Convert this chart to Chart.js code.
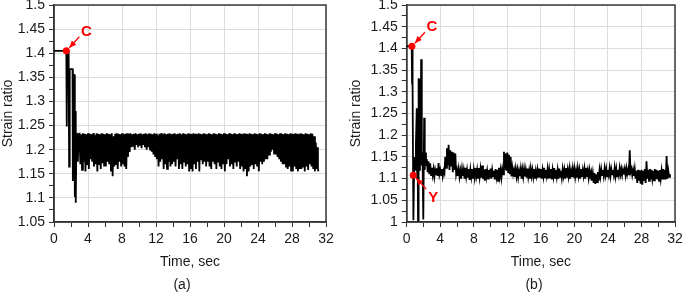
<!DOCTYPE html>
<html>
<head>
<meta charset="utf-8">
<script src="https://cdn.jsdelivr.net/npm/chart.js@4.4.1/dist/chart.umd.min.js"></script>
<style>
  body { margin: 0; background: #fff; }
  #wrap { position: relative; width: 685px; height: 299px; font-family: "Liberation Sans", Arial, sans-serif; }
  canvas { position: absolute; top: 0; }
  #ca { left: 0; }
  #cb { left: 340px; }
  .cap { position: absolute; top: 276px; font-size: 14px; line-height: 16px; color: #1a1a1a; transform: translateX(-50%); }
</style>
</head>
<body>
<div id="wrap">
  <canvas id="ca" width="340" height="299"></canvas>
  <canvas id="cb" width="345" height="299"></canvas>
  <div class="cap" style="left:182px">(a)</div>
  <div class="cap" style="left:534px">(b)</div>
</div>
<script>
const xTicks = [0, 4, 8, 12, 16, 20, 24, 28, 32];
const yTicksA = [1.05, 1.1, 1.15, 1.2, 1.25, 1.3, 1.35, 1.4, 1.45, 1.5];
const yTicksB = [1, 1.05, 1.1, 1.15, 1.2, 1.25, 1.3, 1.35, 1.4, 1.45, 1.5];

// (a) strain ratio vs time
const timeA = [0, 1.45, 1.5, 1.55, 1.72, 1.78, 1.85, 2.18, 2.22, 2.3, 2.4, 2.45, 2.5, 2.56, 2.62, 2.7, 2.8, 2.9,
  3, 3.1, 3.2, 3.3, 3.4, 3.5, 3.6, 3.7, 3.8, 3.9,
  4, 4.1, 4.2, 4.3, 4.4, 4.5, 4.6, 4.7, 4.8, 4.9,
  5, 5.1, 5.2, 5.3, 5.4, 5.5, 5.6, 5.7, 5.8, 5.9,
  6, 6.1, 6.2, 6.3, 6.4, 6.5, 6.6, 6.7, 6.8, 6.9,
  7, 7.1, 7.2, 7.3, 7.4, 7.5, 7.6, 7.7, 7.8, 7.9,
  8, 8.1, 8.2, 8.3, 8.4, 8.5, 8.6, 8.7, 8.8, 8.9,
  9, 9.1, 9.2, 9.3, 9.4, 9.5, 9.6, 9.7, 9.8, 9.9,
  10, 10.1, 10.2, 10.3, 10.4, 10.5, 10.6, 10.7, 10.8, 10.9,
  11, 11.1, 11.2, 11.3, 11.4, 11.5, 11.6, 11.7, 11.8, 11.9,
  12, 12.1, 12.2, 12.3, 12.4, 12.5, 12.6, 12.7, 12.8, 12.9,
  13, 13.1, 13.2, 13.3, 13.4, 13.5, 13.6, 13.7, 13.8, 13.9,
  14, 14.1, 14.2, 14.3, 14.4, 14.5, 14.6, 14.7, 14.8, 14.9,
  15, 15.1, 15.2, 15.3, 15.4, 15.5, 15.6, 15.7, 15.8, 15.9,
  16, 16.1, 16.2, 16.3, 16.4, 16.5, 16.6, 16.7, 16.8, 16.9,
  17, 17.1, 17.2, 17.3, 17.4, 17.5, 17.6, 17.7, 17.8, 17.9,
  18, 18.1, 18.2, 18.3, 18.4, 18.5, 18.6, 18.7, 18.8, 18.9,
  19, 19.1, 19.2, 19.3, 19.4, 19.5, 19.6, 19.7, 19.8, 19.9,
  20, 20.1, 20.2, 20.3, 20.4, 20.5, 20.6, 20.7, 20.8, 20.9,
  21, 21.1, 21.2, 21.3, 21.4, 21.5, 21.6, 21.7, 21.8, 21.9,
  22, 22.1, 22.2, 22.3, 22.4, 22.5, 22.6, 22.7, 22.8, 22.9,
  23, 23.1, 23.2, 23.3, 23.4, 23.5, 23.6, 23.7, 23.8, 23.9,
  24, 24.1, 24.2, 24.3, 24.4, 24.5, 24.6, 24.7, 24.8, 24.9,
  25, 25.1, 25.2, 25.3, 25.4, 25.5, 25.6, 25.7, 25.8, 25.9,
  26, 26.1, 26.2, 26.3, 26.4, 26.5, 26.6, 26.7, 26.8, 26.9,
  27, 27.1, 27.2, 27.3, 27.4, 27.5, 27.6, 27.7, 27.8, 27.9,
  28, 28.1, 28.2, 28.3, 28.4, 28.5, 28.6, 28.7, 28.8, 28.9,
  29, 29.1, 29.2, 29.3, 29.4, 29.5, 29.6, 29.7, 29.8, 29.9,
  30, 30.1, 30.2, 30.3, 30.4, 30.5, 30.6, 30.7, 30.8, 30.9,
  31, 31.05, 31.1];
const strainA = [1.405, 1.405, 1.248, 1.405, 1.405, 1.165, 1.367, 1.367, 1.135, 1.355, 1.355, 1.102, 1.28, 1.09, 1.2, 1.235, 1.175, 1.232,
  1.233, 1.17, 1.232, 1.158, 1.234, 1.175, 1.233, 1.155, 1.232, 1.168,
  1.234, 1.16, 1.233, 1.18, 1.232, 1.175, 1.234, 1.165, 1.23, 1.17,
  1.234, 1.155, 1.233, 1.17, 1.232, 1.16, 1.234, 1.172, 1.233, 1.165,
  1.232, 1.165, 1.234, 1.175, 1.233, 1.17, 1.232, 1.155, 1.234, 1.145,
  1.228, 1.165, 1.233, 1.17, 1.234, 1.16, 1.233, 1.175, 1.232, 1.165,
  1.234, 1.17, 1.232, 1.165, 1.233, 1.16, 1.234, 1.185, 1.233, 1.195,
  1.234, 1.205, 1.232, 1.208, 1.233, 1.2, 1.234, 1.21, 1.232, 1.205,
  1.233, 1.208, 1.234, 1.203, 1.232, 1.21, 1.233, 1.205, 1.234, 1.2,
  1.232, 1.205, 1.234, 1.2, 1.233, 1.196, 1.232, 1.19, 1.234, 1.185,
  1.233, 1.18, 1.23, 1.165, 1.233, 1.175, 1.234, 1.18, 1.232, 1.16,
  1.234, 1.17, 1.232, 1.16, 1.233, 1.175, 1.234, 1.165, 1.232, 1.17,
  1.233, 1.175, 1.234, 1.165, 1.232, 1.18, 1.233, 1.16, 1.234, 1.17,
  1.232, 1.16, 1.234, 1.175, 1.233, 1.165, 1.232, 1.17, 1.234, 1.155,
  1.233, 1.16, 1.232, 1.155, 1.234, 1.17, 1.233, 1.16, 1.232, 1.175,
  1.234, 1.155, 1.233, 1.18, 1.232, 1.17, 1.234, 1.175, 1.233, 1.165,
  1.232, 1.175, 1.234, 1.165, 1.233, 1.16, 1.232, 1.175, 1.234, 1.17,
  1.233, 1.16, 1.232, 1.175, 1.234, 1.165, 1.233, 1.16, 1.232, 1.17,
  1.234, 1.155, 1.233, 1.17, 1.232, 1.18, 1.234, 1.165, 1.233, 1.17,
  1.232, 1.16, 1.234, 1.175, 1.233, 1.165, 1.232, 1.175, 1.234, 1.16,
  1.233, 1.165, 1.232, 1.155, 1.234, 1.16, 1.233, 1.145, 1.232, 1.155,
  1.234, 1.165, 1.233, 1.17, 1.232, 1.16, 1.234, 1.17, 1.233, 1.165,
  1.232, 1.155, 1.234, 1.175, 1.233, 1.17, 1.232, 1.175, 1.234, 1.18,
  1.233, 1.18, 1.232, 1.19, 1.234, 1.195, 1.233, 1.2, 1.232, 1.19,
  1.234, 1.19, 1.233, 1.185, 1.232, 1.18, 1.234, 1.175, 1.233, 1.17,
  1.232, 1.17, 1.234, 1.165, 1.233, 1.16, 1.232, 1.165, 1.234, 1.155,
  1.233, 1.155, 1.232, 1.165, 1.234, 1.16, 1.233, 1.155, 1.232, 1.16,
  1.234, 1.16, 1.233, 1.165, 1.232, 1.155, 1.234, 1.165, 1.233, 1.158,
  1.232, 1.17, 1.234, 1.165, 1.233, 1.16, 1.228, 1.155, 1.215, 1.16,
  1.205, 1.16, 1.155];

// (b) strain ratio vs time
const timeB = [0, 0.6, 0.64, 0.68, 0.72, 0.8, 0.9, 1, 1.1, 1.2, 1.25, 1.3, 1.35, 1.42, 1.5, 1.58, 1.65, 1.72, 1.8, 1.88,
  1.98, 2.08, 2.15, 2.22, 2.3, 2.4, 2.5,
  2.6, 2.7, 2.8, 2.9,
  3, 3.1, 3.2, 3.3, 3.4, 3.5, 3.6, 3.7, 3.8, 3.9,
  4, 4.1, 4.2, 4.3, 4.4, 4.5, 4.6, 4.7, 4.8, 4.9,
  5, 5.1, 5.2, 5.3, 5.4, 5.5, 5.6, 5.7, 5.8, 5.9,
  6, 6.1, 6.2, 6.3, 6.4, 6.5, 6.6, 6.7, 6.8, 6.9,
  7, 7.1, 7.2, 7.3, 7.4, 7.5, 7.6, 7.7, 7.8, 7.9,
  8, 8.1, 8.2, 8.3, 8.4, 8.5, 8.6, 8.7, 8.8, 8.9,
  9, 9.1, 9.2, 9.3, 9.4, 9.5, 9.6, 9.7, 9.8, 9.9,
  10, 10.1, 10.2, 10.3, 10.4, 10.5, 10.6, 10.7, 10.8, 10.9,
  11, 11.1, 11.2, 11.3, 11.4, 11.5, 11.6, 11.7, 11.8, 11.9,
  12, 12.1, 12.2, 12.3, 12.4, 12.5, 12.6, 12.7, 12.8, 12.9,
  13, 13.1, 13.2, 13.3, 13.4, 13.5, 13.6, 13.7, 13.8, 13.9,
  14, 14.1, 14.2, 14.3, 14.4, 14.5, 14.6, 14.7, 14.8, 14.9,
  15, 15.1, 15.2, 15.3, 15.4, 15.5, 15.6, 15.7, 15.8, 15.9,
  16, 16.1, 16.2, 16.3, 16.4, 16.5, 16.6, 16.7, 16.8, 16.9,
  17, 17.1, 17.2, 17.3, 17.4, 17.5, 17.6, 17.7, 17.8, 17.9,
  18, 18.1, 18.2, 18.3, 18.4, 18.5, 18.6, 18.7, 18.8, 18.9,
  19, 19.1, 19.2, 19.3, 19.4, 19.5, 19.6, 19.7, 19.8, 19.9,
  20, 20.1, 20.2, 20.3, 20.4, 20.5, 20.6, 20.7, 20.8, 20.9,
  21, 21.1, 21.2, 21.3, 21.4, 21.5, 21.6, 21.7, 21.8, 21.9,
  22, 22.1, 22.2, 22.3, 22.4, 22.5, 22.6, 22.7, 22.8, 22.9,
  23, 23.1, 23.2, 23.3, 23.4, 23.5, 23.6, 23.7, 23.8, 23.9,
  24, 24.1, 24.2, 24.3, 24.4, 24.5, 24.6, 24.7, 24.8, 24.9,
  25, 25.1, 25.2, 25.3, 25.4, 25.5, 25.6, 25.7, 25.8, 25.9,
  26, 26.1, 26.2, 26.3, 26.4, 26.5, 26.6, 26.7, 26.8, 26.9,
  27, 27.1, 27.2, 27.3, 27.4, 27.5, 27.6, 27.7, 27.8, 27.9,
  28, 28.1, 28.2, 28.3, 28.4, 28.5, 28.6, 28.7, 28.8, 28.9,
  29, 29.1, 29.2, 29.3, 29.4, 29.5, 29.6, 29.7, 29.8, 29.9,
  30, 30.1, 30.2, 30.3, 30.4, 30.5, 30.6, 30.7, 30.8, 30.9,
  31, 31.1, 31.2, 31.3, 31.4];
const strainB = [1.405, 1.405, 1.32, 1.405, 1.315, 1.004, 1.15, 1.12, 1.18, 1.262, 1.1, 1.21, 1.004, 1.331, 1.12, 1.33, 1.15, 1.375, 1.13, 1.16,
  1.006, 1.24, 1.12, 1.16, 1.13, 1.145, 1.115,
  1.14, 1.11, 1.135, 1.108,
  1.125, 1.108, 1.122, 1.104, 1.12, 1.11, 1.124, 1.106, 1.136, 1.11,
  1.12, 1.108, 1.122, 1.105, 1.118, 1.112, 1.15, 1.125, 1.17, 1.13,
  1.178, 1.12, 1.165, 1.13, 1.162, 1.115, 1.16, 1.12, 1.158, 1.11,
  1.12, 1.106, 1.122, 1.104, 1.118, 1.1, 1.122, 1.106, 1.12, 1.1,
  1.125, 1.105, 1.12, 1.102, 1.122, 1.097, 1.12, 1.104, 1.122, 1.1,
  1.12, 1.103, 1.124, 1.106, 1.12, 1.1, 1.124, 1.104, 1.122, 1.102,
  1.13, 1.1, 1.12, 1.095, 1.122, 1.104, 1.118, 1.1, 1.12, 1.102,
  1.123, 1.1, 1.12, 1.106, 1.118, 1.098, 1.122, 1.104, 1.12, 1.095,
  1.125, 1.105, 1.12, 1.102, 1.122, 1.11, 1.162, 1.12, 1.158, 1.118,
  1.16, 1.115, 1.155, 1.11, 1.15, 1.105, 1.125, 1.11, 1.12, 1.104,
  1.122, 1.105, 1.12, 1.103, 1.118, 1.106, 1.122, 1.1, 1.12, 1.104,
  1.122, 1.105, 1.12, 1.102, 1.123, 1.104, 1.118, 1.1, 1.122, 1.106,
  1.12, 1.104, 1.122, 1.1, 1.118, 1.106, 1.12, 1.102, 1.123, 1.104,
  1.122, 1.1, 1.12, 1.105, 1.125, 1.103, 1.12, 1.106, 1.122, 1.1,
  1.12, 1.103, 1.122, 1.098, 1.12, 1.105, 1.124, 1.102, 1.12, 1.104,
  1.12, 1.1, 1.123, 1.104, 1.118, 1.102, 1.122, 1.106, 1.12, 1.1,
  1.124, 1.102, 1.12, 1.105, 1.122, 1.1, 1.118, 1.104, 1.122, 1.102,
  1.122, 1.104, 1.118, 1.102, 1.123, 1.106, 1.12, 1.1, 1.122, 1.104,
  1.12, 1.106, 1.122, 1.1, 1.125, 1.104, 1.118, 1.102, 1.12, 1.106,
  1.115, 1.095, 1.112, 1.09, 1.113, 1.088, 1.11, 1.092, 1.115, 1.095,
  1.12, 1.105, 1.122, 1.108, 1.12, 1.106, 1.124, 1.108, 1.122, 1.105,
  1.12, 1.108, 1.124, 1.106, 1.122, 1.11, 1.12, 1.108, 1.125, 1.106,
  1.122, 1.105, 1.12, 1.108, 1.125, 1.11, 1.122, 1.108, 1.12, 1.11,
  1.122, 1.108, 1.124, 1.11, 1.12, 1.108, 1.165, 1.115, 1.122, 1.108,
  1.12, 1.106, 1.122, 1.1, 1.118, 1.09, 1.12, 1.095, 1.118, 1.088,
  1.12, 1.086, 1.118, 1.095, 1.122, 1.09, 1.14, 1.1, 1.12, 1.095,
  1.122, 1.098, 1.12, 1.1, 1.118, 1.096, 1.122, 1.1, 1.12, 1.098,
  1.118, 1.095, 1.12, 1.1, 1.118, 1.098, 1.122, 1.1, 1.12, 1.098,
  1.152, 1.1, 1.118, 1.104, 1.11];

// marked points (C, Y)
const markTimeA = [1.45];
const markStrainA = [1.405];
const markTextA = ['C'];
const markTimeB = [0.62, 0.775];
const markStrainB = [1.405, 1.108];
const markTextB = ['C', 'Y'];

const FONT = "'Liberation Sans', Arial, sans-serif";
Chart.defaults.font.family = FONT;
Chart.defaults.font.size = 14;
Chart.defaults.color = '#1a1a1a';

// majors with a minor tick halfway between each pair
function withMinor(major) {
  const out = [];
  major.forEach((v, i) => {
    out.push(v);
    if (i < major.length - 1) out.push(+((v + major[i + 1]) / 2).toFixed(4));
  });
  return out;
}

const framePlugin = {
  id: 'frame',
  beforeDatasetsDraw(chart) {
    const { ctx, chartArea: a } = chart;
    ctx.save();
    ctx.strokeStyle = '#3a3a3a';
    ctx.lineWidth = 1.5;
    ctx.strokeRect(a.left, a.top, a.right - a.left, a.bottom - a.top);
    ctx.restore();
  }
};

const arrowPlugin = {
  id: 'arrows',
  afterDatasetsDraw(chart, args, opts) {
    const { ctx } = chart;
    const xs = chart.scales.x, ys = chart.scales.y;
    opts.t.forEach((t, i) => {
      const px = xs.getPixelForValue(t);
      const py = ys.getPixelForValue(opts.v[i]);
      const dir = opts.text[i] === 'Y' ? 1 : -1;
      const tx = px + 13, ty = py + 14 * dir;
      const hx = px + 3, hy = py + 3 * dir;
      ctx.save();
      ctx.strokeStyle = '#ff0000';
      ctx.fillStyle = '#ff0000';
      ctx.lineWidth = 1.3;
      ctx.beginPath();
      ctx.moveTo(tx, ty);
      ctx.lineTo(hx, hy);
      ctx.stroke();
      const ang = Math.atan2(hy - ty, hx - tx);
      ctx.beginPath();
      ctx.moveTo(hx, hy);
      ctx.lineTo(hx - 7 * Math.cos(ang) + 3 * Math.sin(ang), hy - 7 * Math.sin(ang) - 3 * Math.cos(ang));
      ctx.lineTo(hx - 7 * Math.cos(ang) - 3 * Math.sin(ang), hy - 7 * Math.sin(ang) + 3 * Math.cos(ang));
      ctx.closePath();
      ctx.fill();
      ctx.font = 'bold 15px ' + FONT;
      ctx.textAlign = 'center';
      ctx.textBaseline = 'middle';
      ctx.fillText(opts.text[i], px + 20, py + (dir > 0 ? 23 : -19));
      ctx.restore();
    });
  }
};

function makeChart(id, time, strain, yTicks, mt, mv, mtext, yWidth, padRight, yTitlePad) {
  const xAll = withMinor(xTicks);
  const yAll = withMinor(yTicks);
  return new Chart(document.getElementById(id), {
    type: 'line',
    data: {
      datasets: [
        {
          data: mt.map((t, i) => ({ x: t, y: mv[i] })),
          showLine: false,
          pointRadius: 3.5,
          pointBackgroundColor: '#ff0000',
          pointBorderWidth: 0
        },
        {
          data: time.map((t, i) => ({ x: t, y: strain[i] })),
          borderColor: '#000',
          borderWidth: 1.8,
          pointRadius: 0,
          fill: false,
          tension: 0
        }
      ]
    },
    options: {
      responsive: false,
      animation: false,
      events: [],
      layout: { padding: { top: 5, right: padRight, bottom: 28.6, left: 0 } },
      plugins: {
        legend: { display: false },
        tooltip: { enabled: false },
        arrows: { t: mt, v: mv, text: mtext }
      },
      scales: {
        x: {
          type: 'linear',
          min: xTicks[0],
          max: xTicks[xTicks.length - 1],
          afterBuildTicks: s => { s.ticks = xAll.map(v => ({ value: v })); },
          afterFit: s => { s.height = 48.4; s.paddingLeft = 0; s.paddingRight = 0; },
          ticks: { autoSkip: false, maxRotation: 0, padding: 4, callback: (v, i) => (i % 2 ? '' : String(v)) },
          grid: {
            color: c => (c.index % 2 ? 'rgba(0,0,0,0)' : '#dcdcdc'),
            tickColor: '#333',
            tickLength: 5,
            lineWidth: 1
          },
          border: { color: '#222', width: 1.5 },
          title: { display: true, text: 'Time, sec', padding: { top: 0, bottom: 0 } }
        },
        y: {
          min: yTicks[0],
          max: yTicks[yTicks.length - 1],
          afterBuildTicks: s => { s.ticks = yAll.map(v => ({ value: v })); },
          afterFit: s => { s.width = yWidth; s.paddingTop = 0; s.paddingBottom = 0; },
          ticks: { autoSkip: false, padding: 4, callback: (v, i) => (i % 2 ? '' : String(v)) },
          grid: {
            color: c => (c.index % 2 ? 'rgba(0,0,0,0)' : '#dcdcdc'),
            tickColor: '#333',
            tickLength: 5,
            lineWidth: 1
          },
          border: { color: '#222', width: 1.5 },
          title: { display: true, text: 'Strain ratio', padding: { top: yTitlePad, bottom: 0 } }
        }
      }
    },
    plugins: [framePlugin, arrowPlugin]
  });
}

makeChart('ca', timeA, strainA, yTicksA, markTimeA, markStrainA, markTextA, 54, 14, 0);
makeChart('cb', timeB, strainB, yTicksB, markTimeB, markStrainB, markTextB, 66.7, 10, 8);
</script>
</body>
</html>
